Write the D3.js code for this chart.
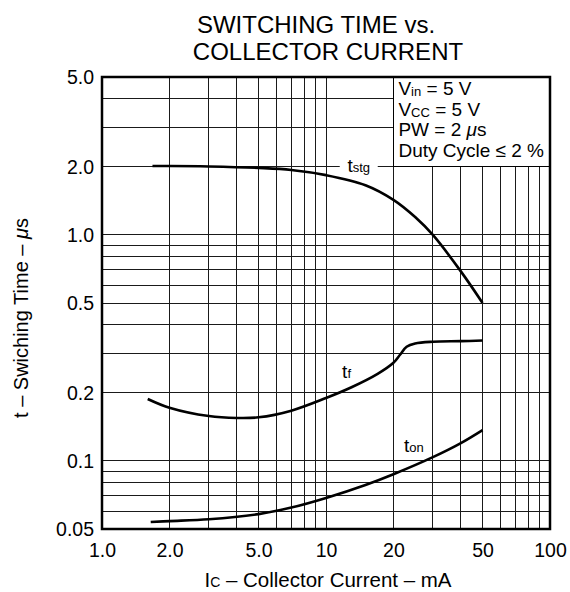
<!DOCTYPE html>
<html>
<head>
  <meta charset="UTF-8">
  <script src="https://d3js.org/d3.v7.min.js"></script>
  <style>
    body { margin: 0; background: #fff; }
    text { font-family: "Liberation Sans", Arial, sans-serif; fill: #000; }
  </style>
</head>
<body>
<svg></svg>
<script>
  let width = 570,
    height = 592;

  // curves (Ic in mA, t in us)
  const tstgI = [1.68, 2, 3, 5, 7, 10, 15, 20, 25, 30, 40, 50];
  const tstgT = [2.02, 2.02, 2.01, 1.98, 1.94, 1.84, 1.66, 1.43, 1.2, 1.0, 0.69, 0.5];
  const tfI = [1.6, 2, 3, 4, 5, 7, 10, 13, 17, 20, 21.4, 22.9, 25, 30, 40, 50];
  const tfT = [0.188, 0.172, 0.158, 0.155, 0.156, 0.167, 0.19, 0.212, 0.243, 0.272, 0.295, 0.32, 0.331, 0.337, 0.339, 0.341];
  const tonI = [1.65, 2, 3, 5, 7, 10, 15, 20, 30, 40, 50];
  const tonT = [0.0537, 0.0542, 0.0552, 0.0582, 0.0622, 0.0686, 0.0783, 0.0874, 0.104, 0.12, 0.137];

  const xTicks = [1, 2, 5, 10, 20, 50, 100];
  const xTickLabels = ["1.0", "2.0", "5.0", "10", "20", "50", "100"];
  const yTicks = [5, 2, 1, 0.5, 0.2, 0.1, 0.05];
  const yTickLabels = ["5.0", "2.0", "1.0", "0.5", "0.2", "0.1", "0.05"];
  const xGrid = [2, 3, 4, 5, 6, 7, 8, 9, 10, 20, 30, 40, 50, 60, 70, 80, 90];
  const yGrid = [0.06, 0.07, 0.08, 0.09, 0.1, 0.2, 0.3, 0.4, 0.5, 0.6, 0.7, 0.8, 0.9, 1, 2, 3, 4];

  const conditions = [
    ["V", "in", " = 5 V"],
    ["V", "CC", " = 5 V"],
    ["PW = 2 ", "", ""],
    ["Duty Cycle \u2264 2 %", "", ""]
  ];

  let svg = d3.select("svg")
    .attr("width", width)
    .attr("height", height);

  let x = d3.scaleLog().domain([1, 100]).range([102, 550]);
  let y = d3.scaleLog().domain([0.05, 5]).range([529, 77]);

  // grid
  let grid = svg.append("g")
    .attr("stroke", "#1a1a1a")
    .attr("stroke-width", 1)
    .attr("shape-rendering", "crispEdges");

  grid.selectAll(".vx")
    .data(xGrid)
    .enter()
    .append("line")
    .attr("x1", d => x(d))
    .attr("x2", d => x(d))
    .attr("y1", y(5))
    .attr("y2", y(0.05));

  grid.selectAll(".hy")
    .data(yGrid)
    .enter()
    .append("line")
    .attr("x1", x(1))
    .attr("x2", x(100))
    .attr("y1", d => y(d))
    .attr("y2", d => y(d));

  // conditions box
  svg.append("rect")
    .attr("x", x(20))
    .attr("y", y(5))
    .attr("width", x(100) - x(20))
    .attr("height", y(2) - y(5))
    .attr("fill", "#fff")
    .attr("stroke", "#000")
    .attr("shape-rendering", "crispEdges");

  let cond = svg.append("g").style("font-size", "19px");
  conditions.forEach((c, i) => {
    let t = cond.append("text")
      .attr("x", x(20) + 5)
      .attr("y", 95 + i * 20.7);
    t.append("tspan").text(c[0]);
    if (c[1]) t.append("tspan").style("font-size", "13px").attr("dy", 1).text(c[1]);
    if (c[2]) t.append("tspan").attr("dy", c[1] ? -1 : 0).text(c[2]);
    if (i == 2) {
      t.append("tspan").style("font-style", "italic").text("\u03bc");
      t.append("tspan").text("s");
    }
  });

  // curves
  let line = d3.line()
    .x(d => x(d[0]))
    .y(d => y(d[1]))
    .curve(d3.curveCatmullRom.alpha(0.5));

  let curves = [
    d3.zip(tstgI, tstgT),
    d3.zip(tfI, tfT),
    d3.zip(tonI, tonT)
  ];

  svg.append("g")
    .selectAll("path")
    .data(curves)
    .enter()
    .append("path")
    .attr("d", line)
    .attr("fill", "none")
    .attr("stroke", "#000")
    .attr("stroke-width", 2.6);

  // curve labels
  let labels = [
    { pos: [14, 2], sub: "stg", gap: true },
    { pos: [11.8, 0.233], sub: "f" },
    { pos: [22.3, 0.1096], sub: "on" }
  ];

  labels.forEach(l => {
    if (l.gap) {
      svg.append("rect")
        .attr("x", x(l.pos[0]) - 19)
        .attr("y", y(l.pos[1]) - 12)
        .attr("width", 38)
        .attr("height", 18)
        .attr("fill", "#fff");
    }
    let t = svg.append("text")
      .attr("x", x(l.pos[0]))
      .attr("y", y(l.pos[1]) + (l.gap ? 5 : 0))
      .attr("text-anchor", l.gap ? "middle" : "start")
      .style("font-size", "19px");
    t.append("tspan").text("t");
    t.append("tspan").style("font-size", "13px").text(l.sub);
  });

  // frame
  svg.append("rect")
    .attr("x", x(1))
    .attr("y", y(5))
    .attr("width", x(100) - x(1))
    .attr("height", y(0.05) - y(5))
    .attr("fill", "none")
    .attr("stroke", "#000")
    .attr("stroke-width", 2.5);

  // axes (labels only)
  let xAxis = d3.axisBottom(x)
    .tickValues(xTicks)
    .tickFormat((d, i) => xTickLabels[i])
    .tickSize(0)
    .tickPadding(14);

  let yAxis = d3.axisLeft(y)
    .tickValues(yTicks)
    .tickFormat((d, i) => yTickLabels[i])
    .tickSize(0)
    .tickPadding(8);

  let gx = svg.append("g")
    .attr("transform", "translate(0," + y(0.05) + ")")
    .call(xAxis);
  let gy = svg.append("g")
    .attr("transform", "translate(" + x(1) + ",0)")
    .call(yAxis);

  [gx, gy].forEach(g => {
    g.select(".domain").remove();
    g.selectAll("text")
      .style("font-size", "19.5px")
      .attr("fill", "#000")
      .style("font-family", "'Liberation Sans', Arial, sans-serif");
  });

  // titles
  let title = svg.append("text")
    .attr("text-anchor", "middle")
    .style("font-size", "24px");
  title.append("tspan").attr("x", 316).attr("y", 33).text("SWITCHING TIME vs.");
  title.append("tspan").attr("x", 328).attr("y", 60).text("COLLECTOR CURRENT");

  let xl = svg.append("text")
    .attr("x", 328)
    .attr("y", 587)
    .attr("text-anchor", "middle")
    .style("font-size", "20.5px");
  xl.append("tspan").text("I");
  xl.append("tspan").style("font-size", "14px").text("C");
  xl.append("tspan").text(" \u2013 Collector Current \u2013 mA");

  let yl = svg.append("text")
    .attr("transform", "translate(28,318) rotate(-90)")
    .attr("text-anchor", "middle")
    .style("font-size", "20px");
  yl.append("tspan").text("t \u2013 Swiching Time \u2013 ");
  yl.append("tspan").style("font-style", "italic").text("\u03bc");
  yl.append("tspan").text("s");
</script>
</body>
</html>
